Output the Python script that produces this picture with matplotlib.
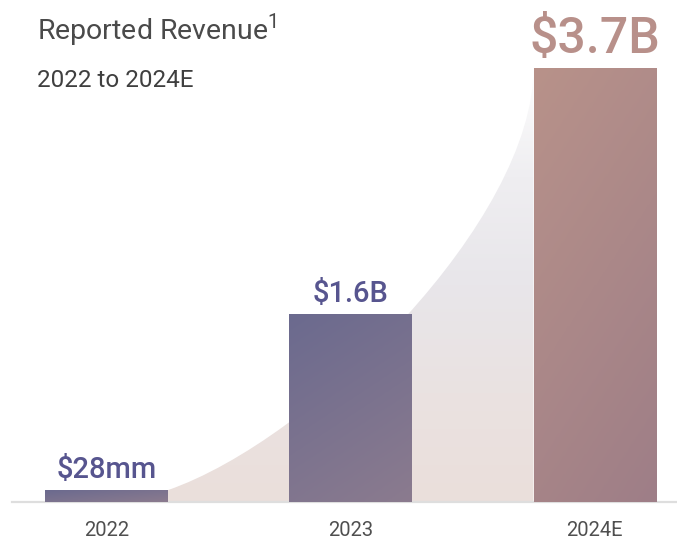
import matplotlib.pyplot as plt
import numpy as np
from matplotlib.colors import LinearSegmentedColormap
from matplotlib.path import Path
from matplotlib.patches import PathPatch

years = ['2022', '2023', '2024E']
revenue = [0.028, 1.6, 3.7]  # $B
value_labels = ['$28mm', '$1.6B', '$3.7B']
min_visible = 0.1  # the tiny 2022 bar is drawn at a visible minimum height, as in the reference

plt.rcParams['font.family'] = ['Roboto', 'DejaVu Sans']
plt.rcParams['mathtext.fontset'] = 'custom'
plt.rcParams['mathtext.rm'] = 'Roboto'

fig = plt.figure(figsize=(6.77, 5.41), dpi=100)
ax = fig.add_axes([12 / 677, 39 / 541, 665 / 677, 502 / 541])

x = np.arange(len(years))
heights = np.maximum(revenue, min_visible)
w = 0.5
bars = ax.bar(x, heights, width=w, color='none', edgecolor='none', zorder=3)

# soft growth curve behind the bars
x0, y0 = x[0] + w / 2, heights[0]
x1, y1 = x[-1] - w / 2, heights[-1]
span, rise = x1 - x0, y1 - y0
verts = [(x0, y0), (x0 + 0.4 * span, y0 + 0.12 * rise), (x1, y0 + 0.64 * rise), (x1, y1),
         (x1, 0), (x0, 0), (x0, y0)]
codes = [Path.MOVETO, Path.CURVE4, Path.CURVE4, Path.CURVE4,
         Path.LINETO, Path.LINETO, Path.CLOSEPOLY]
area = PathPatch(Path(verts, codes), facecolor='none', edgecolor='none')
ax.add_patch(area)
bg_cmap = LinearSegmentedColormap.from_list(
    'bg', [(0, '#ebdfdb'), (0.25, '#eae2e1'), (0.5, '#e8e6ea'), (0.75, '#efeef1'), (1, '#fdfdfd')])
grad = np.linspace(0, 1, 256)[:, None]
im = ax.imshow(grad, cmap=bg_cmap, extent=[x0, x1, 0, y1], origin='lower',
               aspect='auto', zorder=0)
im.set_clip_path(area)

ax.axhline(0, color='#dedede', lw=1.6, zorder=1, clip_on=False)

# gradient fill for each bar
blue = LinearSegmentedColormap.from_list('blue', ['#6b6a8e', '#8b7b8f'])
rose = LinearSegmentedColormap.from_list('rose', ['#b8928a', '#9e7e87'])
bar_cmaps = [blue, blue, rose]
u = np.linspace(0, 1, 100)[None, :]
v = np.linspace(0, 1, 200)[:, None]
for rect, cm in zip(bars, bar_cmaps):
    bx, by = rect.get_x(), rect.get_y()
    bw, bh = rect.get_width(), rect.get_height()
    # short bars run left to right, tall bars mostly top to bottom
    wu = 0.5 if bh < 0.5 else 0.3
    t = wu * u + (1 - wu) * v
    g = ax.imshow(t, cmap=cm, extent=[bx, bx + bw, by, by + bh], origin='upper',
                  aspect='auto', zorder=3)
    g.set_clip_path(rect)

# value labels
label_styles = [
    dict(color='#57558f', fontsize=21, fontweight='medium', off=9),
    dict(color='#57558f', fontsize=21, fontweight='medium', off=9),
    dict(color='#b8908a', fontsize=36, fontweight='medium', off=11),
]
for xi, h, lab, st in zip(x, heights, value_labels, label_styles):
    ax.annotate(lab, (xi, h), xytext=(0, st['off']), textcoords='offset points',
                ha='center', va='baseline', color=st['color'],
                fontsize=st['fontsize'], fontweight=st['fontweight'])

ax.set_xlim(-0.387, 2.338)
ax.set_ylim(0, 4.28)
ax.set_xticks(x, years)
ax.tick_params(axis='x', length=0, pad=14, labelsize=14.5, labelcolor='#4f4f4f')
ax.set_yticks([])
for s in ax.spines.values():
    s.set_visible(False)
ax.patch.set_alpha(0)

fig.text(37 / 677, 1 - 40 / 541, 'Reported Revenue$^{1}$', fontsize=20.5,
         color='#4a4a4a', va='baseline', ha='left')
fig.text(37 / 677, 1 - 87 / 541, '2022 to 2024E', fontsize=17.5,
         color='#3f3f3f', va='baseline', ha='left')

fig.savefig('out.png', dpi=100)
